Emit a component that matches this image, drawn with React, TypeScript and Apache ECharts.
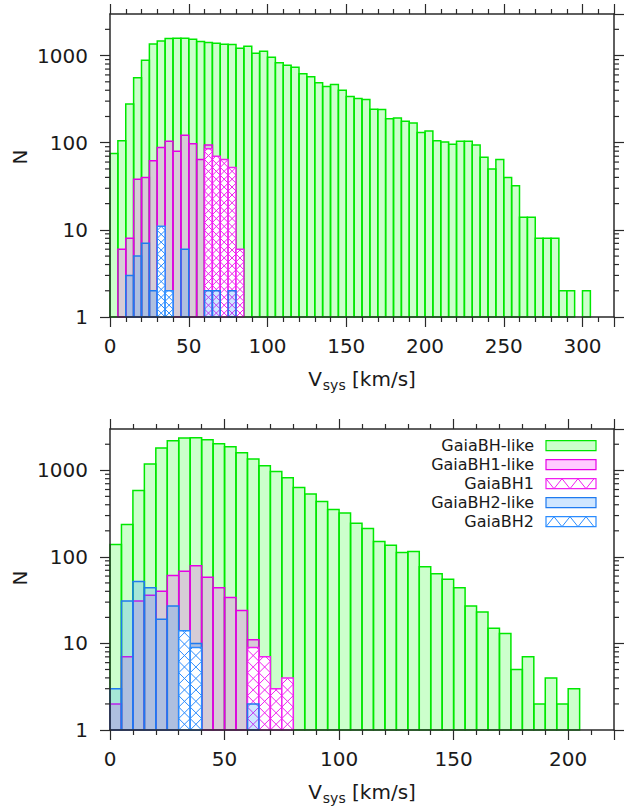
import React, { useEffect, useRef } from 'react';
import * as echarts from 'echarts';

const FONT = 'DejaVu Sans';
const TXT = '#1a1a1a';
const AX = '#2a2a2a';
const BIN_WIDTH = 5;
const X_MAX_TOP = 320;
const X_MAX_BOT = 220;
const X_TICK_INTERVAL = 50;
const Y_MIN = 1;
const Y_MAX = 3000;
const LOG_MINOR_TICKS = [2, 3, 4, 5, 6, 7, 8, 9, 20, 30, 40, 50, 60, 70, 80, 90, 200, 300, 400, 500, 600, 700, 800, 900, 2000];

// Counts per 5 km/s bin, starting at 0 km/s
const TOP_BH_LIKE = [75, 105, 279, 556, 883, 1361, 1473, 1567, 1583, 1583, 1542, 1446, 1409, 1386, 1349, 1337, 1213, 1280, 1064, 1122, 955, 828, 773, 733, 619, 571, 487, 443, 467, 401, 340, 322, 313, 242, 240, 189, 192, 176, 168, 131, 136, 105, 102, 96, 104, 104, 94, 68, 50, 64, 40, 32, 14, 14, 8, 8, 8, 2, 2, 0, 2];
const TOP_BH1_LIKE = [0, 6, 8, 38, 40, 62, 88, 104, 80, 122, 97, 64, 94];
const TOP_BH1 = [0, 0, 0, 0, 0, 0, 0, 0, 0, 0, 0, 0, 85, 70, 64, 52, 6];
const TOP_BH2_LIKE = [0, 0, 3, 5, 7, 2, 0, 2, 0, 6, 0, 0, 2, 2, 0, 2];
const TOP_BH2 = [0, 0, 0, 0, 0, 0, 11, 2];

const BOT_BH_LIKE = [139, 236, 583, 1183, 1811, 2198, 2360, 2382, 2259, 2032, 1876, 1600, 1352, 1132, 966, 823, 631, 534, 435, 352, 322, 245, 212, 150, 136, 112, 115, 77, 64, 55, 44, 27, 23, 15, 13, 5, 7, 2, 4, 2, 3];
const BOT_BH1_LIKE = [2, 7, 31, 36, 40, 61, 68, 79, 58, 44, 34, 24, 11];
const BOT_BH1 = [0, 0, 0, 0, 0, 0, 0, 0, 0, 0, 0, 0, 9, 7, 3, 4];
const BOT_BH2_LIKE = [3, 31, 52, 44, 19, 27, 0, 10, 0, 0, 0, 0, 2];
const BOT_BH2 = [0, 0, 0, 0, 0, 0, 14, 9];

const LEGEND_LABELS = ['GaiaBH-like', 'GaiaBH1-like', 'GaiaBH1', 'GaiaBH2-like', 'GaiaBH2'];

type Sty = { fill: string; swatch: string; stroke: string; hatch: boolean };
const STYLES: Sty[] = [
  { fill: 'rgba(0,255,0,0.2)', swatch: '#ccffcc', stroke: '#00e800', hatch: false },
  { fill: 'rgba(255,0,255,0.2)', swatch: '#ffccff', stroke: '#e600e6', hatch: false },
  { fill: '#ffffff', swatch: '#ffffff', stroke: '#f020f0', hatch: true },
  { fill: 'rgba(30,144,255,0.22)', swatch: '#cfe6ff', stroke: '#1e7af0', hatch: false },
  { fill: '#ffffff', swatch: '#ffffff', stroke: '#2a8cff', hatch: true },
];

function histData(counts: number[]) {
  const out: number[][] = [];
  counts.forEach((c, i) => {
    if (c > 0) out.push([i * BIN_WIDTH, (i + 1) * BIN_WIDTH, c]);
  });
  return out;
}

function histSeries(name: string, counts: number[], gi: number, st: Sty) {
  return {
    type: 'custom',
    name,
    xAxisIndex: gi * 2,
    yAxisIndex: gi * 2,
    silent: true,
    clip: false,
    encode: { x: [0, 1], y: 2 },
    data: histData(counts),
    renderItem: (_p: any, api: any) => {
      const tl = api.coord([api.value(0), api.value(2)]);
      const br = api.coord([api.value(1), Y_MIN]);
      const left = tl[0];
      const top = tl[1];
      const w = br[0] - tl[0];
      const bottom = br[1];
      const h = bottom - top;
      const children: any[] = [
        { type: 'rect', shape: { x: left, y: top, width: w, height: h }, style: { fill: st.fill, stroke: 'none' } },
      ];
      if (st.hatch) {
        for (let k = 0; k * w < h - 0.01; k++) {
          const yb = bottom - k * w;
          const r = Math.min(w, h - k * w);
          children.push({ type: 'line', shape: { x1: left, y1: yb, x2: left + r, y2: yb - r }, style: { stroke: st.stroke, lineWidth: 1 } });
          children.push({ type: 'line', shape: { x1: left + w, y1: yb, x2: left + w - r, y2: yb - r }, style: { stroke: st.stroke, lineWidth: 1 } });
        }
      }
      children.push({ type: 'rect', shape: { x: left, y: top, width: w, height: h }, style: { fill: 'none', stroke: st.stroke, lineWidth: 1.5 } });
      return { type: 'group', children };
    },
  };
}

function minorTickSeries(gi: number, xMax: number) {
  return {
    type: 'custom',
    xAxisIndex: gi * 2,
    yAxisIndex: gi * 2,
    silent: true,
    clip: false,
    z: 11,
    encode: { x: 0, y: 1 },
    data: LOG_MINOR_TICKS.map((v) => [0, v]),
    renderItem: (_p: any, api: any) => {
      const v = api.value(1);
      const l = api.coord([0, v]);
      const r = api.coord([xMax, v]);
      return {
        type: 'group',
        children: [
          { type: 'line', shape: { x1: l[0] - 5, y1: l[1], x2: l[0], y2: l[1] }, style: { stroke: AX, lineWidth: 1.2 } },
          { type: 'line', shape: { x1: r[0], y1: r[1], x2: r[0] + 5, y2: r[1] }, style: { stroke: AX, lineWidth: 1.2 } },
        ],
      };
    },
  };
}

const X_TITLE = '{a|V}{b|sys}{a| [km/s]}';
const titleStyle = {
  rich: {
    a: { fontSize: 20, fontFamily: FONT, color: TXT, lineHeight: 26 },
    b: { fontSize: 14, fontFamily: FONT, color: TXT, lineHeight: 14, padding: [12, 0, 0, 1] },
  },
};

function xAxes(gi: number, max: number) {
  const common: any = {
    type: 'value',
    gridIndex: gi,
    min: 0,
    max,
    interval: X_TICK_INTERVAL,
    z: 10,
    axisLine: { show: true, onZero: false, lineStyle: { color: AX, width: 1.5 } },
    axisTick: { show: true, inside: false, length: 10, lineStyle: { color: AX, width: 1.2 } },
    minorTick: { show: true, splitNumber: 5, length: 5, lineStyle: { color: AX, width: 1.2 } },
    splitLine: { show: false },
  };
  return [
    {
      ...common,
      position: 'bottom',
      axisLabel: { show: true, fontSize: 20, fontFamily: FONT, color: TXT, margin: 19, showMaxLabel: false },
      name: X_TITLE,
      nameLocation: 'middle',
      nameGap: 49,
      nameTextStyle: titleStyle,
    },
    { ...common, position: 'top', axisLabel: { show: false } },
  ];
}

function yAxes(gi: number) {
  const common: any = {
    type: 'log',
    logBase: 10,
    gridIndex: gi,
    min: Y_MIN,
    max: Y_MAX,
    z: 10,
    axisLine: { show: true, onZero: false, lineStyle: { color: AX, width: 1.5 } },
    axisTick: { show: true, inside: false, length: 10, lineStyle: { color: AX, width: 1.2 } },
    minorTick: { show: false },
    splitLine: { show: false },
  };
  return [
    {
      ...common,
      position: 'left',
      axisLabel: {
        show: true,
        fontSize: 20,
        fontFamily: FONT,
        color: TXT,
        margin: 22,
        showMaxLabel: false,
        formatter: (v: number) => String(Math.round(v)),
      },
    },
    { ...common, position: 'right', axisLabel: { show: false } },
  ];
}

function legendGraphic() {
  const els: any[] = [];
  const textRight = 534;
  const sx = 546;
  const sw = 50;
  const sh = 10;
  LEGEND_LABELS.forEach((label, i) => {
    const cy = 445.7 + i * 19;
    const st = STYLES[i];
    els.push({
      type: 'text',
      x: textRight,
      y: cy,
      style: { text: label, fontSize: 16, fontFamily: FONT, fill: TXT, align: 'right', verticalAlign: 'middle' },
    });
    const top = cy - sh / 2;
    els.push({ type: 'rect', shape: { x: sx, y: top, width: sw, height: sh }, style: { fill: st.swatch, stroke: 'none' } });
    if (st.hatch) {
      const pts: number[][] = [];
      const startTop = i === 2;
      for (let k = 0; k * 8 <= sw; k++) {
        const atTop = (k % 2 === 0) === startTop;
        pts.push([sx + k * 8, atTop ? top : top + sh]);
      }
      els.push({ type: 'polyline', shape: { points: pts }, style: { stroke: st.stroke, lineWidth: 1, fill: 'none' } });
    }
    els.push({ type: 'rect', shape: { x: sx, y: top, width: sw, height: sh }, style: { fill: 'none', stroke: st.stroke, lineWidth: 1.2 } });
  });
  return els;
}

export default function App() {
  const ref = useRef<HTMLDivElement>(null);
  useEffect(() => {
    if (!ref.current) return;
    const chart = echarts.init(ref.current, undefined, { renderer: 'svg' });
    const panels = [
      [TOP_BH_LIKE, TOP_BH1_LIKE, TOP_BH1, TOP_BH2_LIKE, TOP_BH2],
      [BOT_BH_LIKE, BOT_BH1_LIKE, BOT_BH1, BOT_BH2_LIKE, BOT_BH2],
    ];
    const series: any[] = [];
    panels.forEach((p, gi) => {
      p.forEach((counts, si) => series.push(histSeries(LEGEND_LABELS[si], counts, gi, STYLES[si])));
      series.push(minorTickSeries(gi, gi === 0 ? X_MAX_TOP : X_MAX_BOT));
    });
    chart.setOption({
      animation: false,
      textStyle: { fontFamily: FONT },
      grid: [
        { left: 110, right: 10, top: 14, height: 303 },
        { left: 110, right: 10, top: 429, height: 301 },
      ],
      xAxis: [...xAxes(0, X_MAX_TOP), ...xAxes(1, X_MAX_BOT)],
      yAxis: [...yAxes(0), ...yAxes(1)],
      series,
      graphic: [
        {
          type: 'text',
          x: 19.5,
          y: 157,
          rotation: Math.PI / 2,
          style: { text: 'N', fontSize: 20, fontFamily: FONT, fill: TXT, align: 'center', verticalAlign: 'middle' },
        },
        {
          type: 'text',
          x: 19.5,
          y: 578,
          rotation: Math.PI / 2,
          style: { text: 'N', fontSize: 20, fontFamily: FONT, fill: TXT, align: 'center', verticalAlign: 'middle' },
        },
        ...legendGraphic(),
      ],
    });
    return () => chart.dispose();
  }, []);
  return <div ref={ref} style={{ position: 'absolute', left: 0, top: 0, width: 624, height: 808 }} />;
}
